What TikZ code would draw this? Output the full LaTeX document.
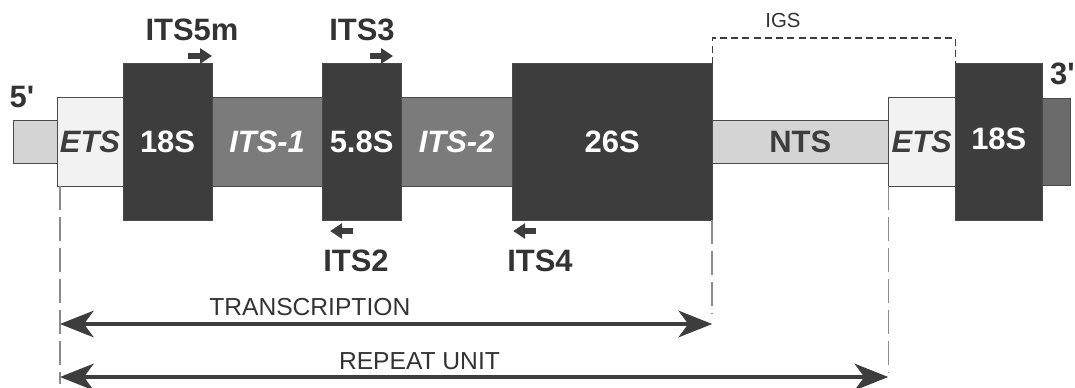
\documentclass[tikz,border=0pt]{standalone}
\usepackage{fontspec}
\setmainfont{Liberation Sans}
\usetikzlibrary{arrows.meta,positioning}

\definecolor{rnadark}{HTML}{3D3D3D}
\definecolor{itsgray}{HTML}{7B7B7B}
\definecolor{etsgray}{HTML}{F2F2F2}
\definecolor{ntsgray}{HTML}{D4D4D4}
\definecolor{endgray}{HTML}{6B6B6B}
\definecolor{segline}{HTML}{4A4A4A}
\definecolor{guidegray}{HTML}{8C8C8C}
\definecolor{txtgray}{HTML}{333333}

\begin{document}
\begin{tikzpicture}[
    x=0.025cm, y=-0.025cm,
    seg/.style={draw=segline, line width=0.7pt, inner sep=0pt, outer sep=0pt, anchor=west,
        font=\bfseries\fontsize{22}{26}\selectfont},
    gene/.style={seg, fill=rnadark, text=white, minimum height=3.9cm},
    spacer/.style={seg, fill=itsgray, text=white, minimum height=2.2cm,
        font=\bfseries\itshape\fontsize{22}{26}\selectfont},
    ets/.style={seg, fill=etsgray, text=rnadark, minimum height=2.2cm,
        font=\bfseries\itshape\fontsize{22}{26}\selectfont},
    ntsbar/.style={seg, fill=ntsgray, text=rnadark, minimum height=1.075cm},
    primer/.style={-{Triangle[length=8.5pt,width=10.5pt]}, line width=4.6pt, draw=rnadark},
    primlbl/.style={font=\bfseries\fontsize{22}{26}\selectfont, text=txtgray, inner sep=0pt},
    guideline/.style={draw=guidegray, dash pattern=on 17pt off 5pt, line width=1pt},
    igsline/.style={draw=rnadark, dash pattern=on 5pt off 3pt, line width=0.8pt},
    spanarr/.style={{Stealth[length=24pt,width=19pt,inset=7pt]}-{Stealth[length=24pt,width=19pt,inset=7pt]},
        line width=2.2pt, draw=rnadark},
    spanlbl/.style={font=\fontsize{17.5}{20}\selectfont, text=txtgray, inner sep=0pt}
]
\useasboundingbox (0,0) rectangle (1075,387);

% repeat unit, 5' to 3'
\node[ntsbar, minimum width=1.1cm] (b5) at (13,142) {};
\node[ets, minimum width=1.65cm, right=0pt of b5] (ets1) {\raisebox{-5pt}{ETS}};
\node[gene, minimum width=2.225cm, right=0pt of ets1] (s18a) {18S};
\node[spacer, minimum width=2.75cm, right=0pt of s18a] (its1) {\raisebox{-5pt}{ITS-1}};
\node[gene, minimum width=1.975cm, right=0pt of its1] (s58) {5.8S};
\node[spacer, minimum width=2.775cm, right=0pt of s58] (its2) {\raisebox{-2pt}{ITS-2}};
\node[gene, minimum width=5cm, right=0pt of its2] (s26) {26S};
\node[ntsbar, minimum width=4.4cm, right=0pt of s26] (nts) {NTS};
\node[ets, minimum width=1.675cm, right=0pt of nts] (ets2) {ETS};
\node[gene, minimum width=2.175cm, right=0pt of ets2] (s18b) {\raisebox{5pt}{18S}};
\node[seg, fill=endgray, minimum width=0.7cm, minimum height=2.15cm, right=0pt of s18b] (b3) {};

\node[primlbl] (p5) at (22,97) {5\textquotesingle};
\node[primlbl, anchor=east] (p3) at (1075,74) {3\textquotesingle};

% primers
\node[primlbl] (l5m) at (192,30) {ITS5m};
\node[primlbl] (l3) at (362,30) {ITS3};
\node[primlbl] (l2) at (356,261) {ITS2};
\node[primlbl] (l4) at (540,261) {ITS4};
\draw[primer] ([shift={(-24,-8)}]s18a.north east) -- ([shift={(0,-8)}]s18a.north east);
\draw[primer] ([shift={(-31,-8)}]s58.north east) -- ([shift={(-8,-8)}]s58.north east);
\draw[primer] ([shift={(31,11)}]s58.south west) -- ([shift={(8,11)}]s58.south west);
\draw[primer] ([shift={(24,11)}]s26.south west) -- ([shift={(1,11)}]s26.south west);

% IGS
\node[font=\fontsize{14.5}{17}\selectfont, text=txtgray, inner sep=0pt] (igs) at (783,20) {IGS};
\draw[igsline] (s26.north east) -- ++(0,-26) -| (s18b.north west);

% spans
\coordinate (trL) at (60,324);
\coordinate (trR) at (s26.east |- trL);
\coordinate (rpL) at (60,377);
\coordinate (rpR) at (nts.east |- rpL);
\draw[guideline] (trL |- ets1.south) -- (60,384);
\draw[guideline] (s26.south east) -- (s26.south east |- 0,313);
\draw[guideline] (ets2.south west) -- (ets2.south west |- 0,373);
\draw[spanarr] (trL) -- node[spanlbl, pos=0.383, above=5pt] (trlbl) {TRANSCRIPTION} (trR);
\draw[spanarr] (rpL) -- node[spanlbl, pos=0.434, above=4pt] (rplbl) {REPEAT UNIT} (rpR);
\end{tikzpicture}
\end{document}
